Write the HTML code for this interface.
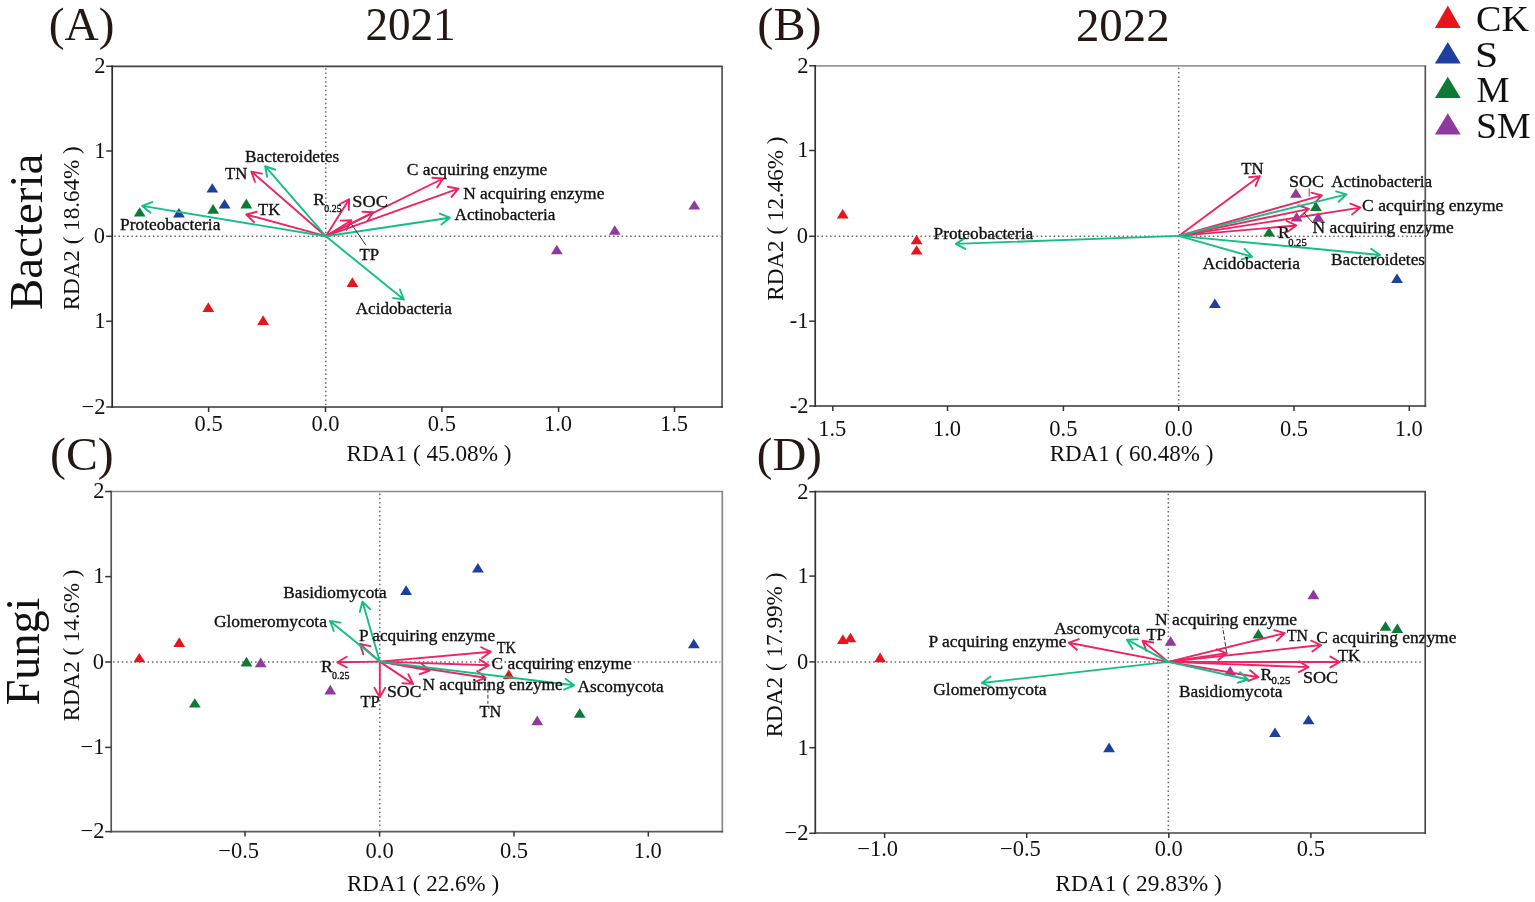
<!DOCTYPE html>
<html><head><meta charset="utf-8"><style>
html,body{margin:0;padding:0;background:#fff;}
body{width:1535px;height:902px;overflow:hidden;}
svg{display:block;font-family:'Liberation Serif', 'Times New Roman', serif;}

</style></head><body>
<svg width="1535" height="902" viewBox="0 0 1535 902">
<rect width="1535" height="902" fill="#fff"/>
<line x1="114.20" y1="236.30" x2="721.10" y2="236.30" stroke="#666" stroke-width="1.5" stroke-dasharray="1.5 2.8"/>
<line x1="325.80" y1="68.30" x2="325.80" y2="405.00" stroke="#666" stroke-width="1.5" stroke-dasharray="1.5 2.8"/>
<path d="M139.70,207.20L145.60,216.60L133.80,216.60Z" fill="#0E7A35"/>
<path d="M178.90,208.00L184.80,217.40L173.00,217.40Z" fill="#1E3FA0"/>
<path d="M212.30,183.20L218.20,192.60L206.40,192.60Z" fill="#1E3FA0"/>
<path d="M213.10,203.90L219.00,213.70L207.20,213.70Z" fill="#0E7A35"/>
<path d="M224.60,199.00L230.50,208.60L218.70,208.60Z" fill="#1E3FA0"/>
<path d="M246.30,198.60L252.20,208.60L240.40,208.60Z" fill="#0E7A35"/>
<path d="M556.80,244.80L562.70,254.20L550.90,254.20Z" fill="#8E3A9E"/>
<path d="M614.80,225.20L620.70,234.80L608.90,234.80Z" fill="#8E3A9E"/>
<path d="M694.30,200.20L700.20,209.60L688.40,209.60Z" fill="#8E3A9E"/>
<path d="M208.30,302.20L214.20,311.90L202.40,311.90Z" fill="#E8141C"/>
<path d="M263.10,315.30L269.00,325.00L257.20,325.00Z" fill="#E8141C"/>
<path d="M352.40,277.20L358.30,286.90L346.50,286.90Z" fill="#E8141C"/>
<path d="M325.80,236.20L251.40,171.60M254.92,181.81L251.40,171.60L262.00,173.65" stroke="#EE2462" stroke-width="1.9" fill="none" stroke-linecap="round" stroke-linejoin="round"/>
<path d="M325.80,236.20L246.30,214.50M253.90,222.17L246.30,214.50L256.74,211.75" stroke="#EE2462" stroke-width="1.9" fill="none" stroke-linecap="round" stroke-linejoin="round"/>
<path d="M325.80,236.20L349.20,199.20M339.64,204.22L349.20,199.20L348.76,209.99" stroke="#EE2462" stroke-width="1.9" fill="none" stroke-linecap="round" stroke-linejoin="round"/>
<path d="M325.80,236.20L373.20,212.30M362.42,211.69L373.20,212.30L367.28,221.33" stroke="#EE2462" stroke-width="1.9" fill="none" stroke-linecap="round" stroke-linejoin="round"/>
<path d="M325.80,236.20L351.50,220.30M340.71,220.63L351.50,220.30L346.39,229.81" stroke="#EE2462" stroke-width="1.9" fill="none" stroke-linecap="round" stroke-linejoin="round"/>
<path d="M325.80,236.20L443.10,178.50M432.32,177.78L443.10,178.50L437.09,187.47" stroke="#EE2462" stroke-width="1.9" fill="none" stroke-linecap="round" stroke-linejoin="round"/>
<path d="M325.80,236.20L458.50,188.70M447.87,186.77L458.50,188.70L451.51,196.94" stroke="#EE2462" stroke-width="1.9" fill="none" stroke-linecap="round" stroke-linejoin="round"/>
<path d="M325.80,236.20L142.20,205.90M150.55,212.75L142.20,205.90L152.31,202.10" stroke="#14BE87" stroke-width="1.9" fill="none" stroke-linecap="round" stroke-linejoin="round"/>
<path d="M325.80,236.20L265.10,166.20M267.15,176.80L265.10,166.20L275.31,169.73" stroke="#14BE87" stroke-width="1.9" fill="none" stroke-linecap="round" stroke-linejoin="round"/>
<path d="M325.80,236.20L449.80,217.70M439.75,213.74L449.80,217.70L441.35,224.42" stroke="#14BE87" stroke-width="1.9" fill="none" stroke-linecap="round" stroke-linejoin="round"/>
<path d="M325.80,236.20L403.80,299.60M399.95,289.51L403.80,299.60L393.14,297.89" stroke="#14BE87" stroke-width="1.9" fill="none" stroke-linecap="round" stroke-linejoin="round"/>
<line x1="351.30" y1="223.90" x2="365.90" y2="245.20" stroke="#333" stroke-width="1.0" />
<text x="120.00" y="229.90" font-size="17.5" textLength="100.34" lengthAdjust="spacingAndGlyphs" fill="#111" stroke="#111" stroke-width="0.35" >Proteobacteria</text>
<text x="258.00" y="214.90" font-size="17.5" textLength="22.17" lengthAdjust="spacingAndGlyphs" fill="#111" stroke="#111" stroke-width="0.35" >TK</text>
<text x="225.10" y="179.30" font-size="17.5" textLength="22.39" lengthAdjust="spacingAndGlyphs" fill="#111" stroke="#111" stroke-width="0.35" >TN</text>
<text x="245.00" y="162.20" font-size="17.5" textLength="94.22" lengthAdjust="spacingAndGlyphs" fill="#111" stroke="#111" stroke-width="0.35" >Bacteroidetes</text>
<text x="313.30" y="205.40" font-size="17.5" fill="#111" stroke="#111" stroke-width="0.35" >R</text>
<text x="324.32" y="212.30" font-size="10.5" textLength="17.26" lengthAdjust="spacingAndGlyphs" fill="#111" stroke="#111" stroke-width="0.35" >0.25</text>
<text x="352.38" y="206.60" font-size="17.5" textLength="35.53" lengthAdjust="spacingAndGlyphs" fill="#111" stroke="#111" stroke-width="0.35" >SOC</text>
<text x="406.78" y="174.70" font-size="17.5" textLength="140.62" lengthAdjust="spacingAndGlyphs" fill="#111" stroke="#111" stroke-width="0.35" >C acquiring enzyme</text>
<text x="463.20" y="198.70" font-size="17.5" textLength="141.21" lengthAdjust="spacingAndGlyphs" fill="#111" stroke="#111" stroke-width="0.35" >N acquiring enzyme</text>
<text x="454.53" y="220.40" font-size="17.5" textLength="100.80" lengthAdjust="spacingAndGlyphs" fill="#111" stroke="#111" stroke-width="0.35" >Actinobacteria</text>
<text x="359.50" y="259.50" font-size="17.5" textLength="19.57" lengthAdjust="spacingAndGlyphs" fill="#111" stroke="#111" stroke-width="0.35" >TP</text>
<text x="355.73" y="314.30" font-size="17.5" textLength="96.10" lengthAdjust="spacingAndGlyphs" fill="#111" stroke="#111" stroke-width="0.35" >Acidobacteria</text>
<line x1="111.35" y1="66.30" x2="722.95" y2="66.30" stroke="#444" stroke-width="1.7"/>
<line x1="722.10" y1="66.30" x2="722.10" y2="407.85" stroke="#555" stroke-width="1.7"/>
<line x1="111.35" y1="407.00" x2="722.95" y2="407.00" stroke="#333" stroke-width="1.7"/>
<line x1="112.20" y1="65.45" x2="112.20" y2="407.85" stroke="#2a2a2a" stroke-width="1.7"/>
<line x1="106.20" y1="66.30" x2="112.20" y2="66.30" stroke="#333" stroke-width="1.5" />
<text x="94.19" y="73.11" font-size="22.5" fill="#111">2</text>
<line x1="106.20" y1="151.00" x2="112.20" y2="151.00" stroke="#333" stroke-width="1.5" />
<text x="94.30" y="157.80" font-size="22.5" fill="#111">1</text>
<line x1="106.20" y1="236.30" x2="112.20" y2="236.30" stroke="#333" stroke-width="1.5" />
<text x="93.81" y="243.10" font-size="22.5" fill="#111">0</text>
<line x1="106.20" y1="321.30" x2="112.20" y2="321.30" stroke="#333" stroke-width="1.5" />
<text x="94.30" y="328.11" font-size="22.5" fill="#111">1</text>
<line x1="106.20" y1="407.00" x2="112.20" y2="407.00" stroke="#333" stroke-width="1.5" />
<text x="81.50" y="413.81" font-size="22.5" fill="#111">−2</text>
<line x1="208.60" y1="407.00" x2="208.60" y2="412.00" stroke="#333" stroke-width="1.5" />
<text x="194.55" y="430.80" font-size="22.5" fill="#111">0.5</text>
<line x1="325.50" y1="407.00" x2="325.50" y2="412.00" stroke="#333" stroke-width="1.5" />
<text x="311.44" y="430.80" font-size="22.5" fill="#111">0.0</text>
<line x1="441.90" y1="407.00" x2="441.90" y2="412.00" stroke="#333" stroke-width="1.5" />
<text x="427.85" y="430.80" font-size="22.5" fill="#111">0.5</text>
<line x1="558.60" y1="407.00" x2="558.60" y2="412.00" stroke="#333" stroke-width="1.5" />
<text x="543.98" y="430.80" font-size="22.5" fill="#111">1.0</text>
<line x1="674.50" y1="407.00" x2="674.50" y2="412.00" stroke="#333" stroke-width="1.5" />
<text x="659.89" y="430.80" font-size="22.5" fill="#111">1.5</text>
<text x="346.53" y="460.90" font-size="23" textLength="165.09" lengthAdjust="spacingAndGlyphs" fill="#111" stroke="#111" stroke-width="0" >RDA1 ( 45.08% )</text>
<text transform="translate(79.00,310.36) rotate(-90)" x="0" y="0" font-size="22.5" textLength="164.08" lengthAdjust="spacingAndGlyphs" fill="#111">RDA2 ( 18.64% )</text>
<line x1="817.20" y1="236.30" x2="1422.30" y2="236.30" stroke="#666" stroke-width="1.5" stroke-dasharray="1.5 2.8"/>
<line x1="1178.70" y1="67.80" x2="1178.70" y2="404.00" stroke="#666" stroke-width="1.5" stroke-dasharray="1.5 2.8"/>
<path d="M842.70,209.00L848.60,218.50L836.80,218.50Z" fill="#E8141C"/>
<path d="M916.60,234.80L922.50,244.20L910.70,244.20Z" fill="#E8141C"/>
<path d="M916.60,245.20L922.50,254.50L910.70,254.50Z" fill="#E8141C"/>
<path d="M1295.90,188.20L1301.80,197.70L1290.00,197.70Z" fill="#8E3A9E"/>
<path d="M1296.60,212.00L1302.50,221.40L1290.70,221.40Z" fill="#8E3A9E"/>
<path d="M1318.20,212.30L1324.10,221.70L1312.30,221.70Z" fill="#8E3A9E"/>
<path d="M1315.90,201.50L1321.80,211.00L1310.00,211.00Z" fill="#0E7A35"/>
<path d="M1269.10,227.20L1275.00,236.60L1263.20,236.60Z" fill="#0E7A35"/>
<path d="M1397.00,273.60L1402.90,283.00L1391.10,283.00Z" fill="#1E3FA0"/>
<path d="M1214.90,298.40L1220.80,308.10L1209.00,308.10Z" fill="#1E3FA0"/>
<path d="M1178.70,235.90L1259.80,176.10M1249.07,177.30L1259.80,176.10L1255.48,186.00" stroke="#EE2462" stroke-width="1.9" fill="none" stroke-linecap="round" stroke-linejoin="round"/>
<path d="M1178.70,235.90L1321.90,195.30M1311.43,192.66L1321.90,195.30L1314.37,203.05" stroke="#EE2462" stroke-width="1.9" fill="none" stroke-linecap="round" stroke-linejoin="round"/>
<path d="M1178.70,235.90L1360.50,207.60M1350.43,203.70L1360.50,207.60L1352.09,214.37" stroke="#EE2462" stroke-width="1.9" fill="none" stroke-linecap="round" stroke-linejoin="round"/>
<path d="M1178.70,235.90L1308.90,208.90M1298.65,205.51L1308.90,208.90L1300.84,216.09" stroke="#EE2462" stroke-width="1.9" fill="none" stroke-linecap="round" stroke-linejoin="round"/>
<path d="M1178.70,235.90L1296.30,225.50M1286.51,220.94L1296.30,225.50L1287.46,231.70" stroke="#EE2462" stroke-width="1.9" fill="none" stroke-linecap="round" stroke-linejoin="round"/>
<path d="M1178.70,235.90L955.80,243.90M965.34,248.96L955.80,243.90L964.95,238.17" stroke="#14BE87" stroke-width="1.9" fill="none" stroke-linecap="round" stroke-linejoin="round"/>
<path d="M1178.70,235.90L1346.50,194.30M1336.12,191.31L1346.50,194.30L1338.72,201.79" stroke="#14BE87" stroke-width="1.9" fill="none" stroke-linecap="round" stroke-linejoin="round"/>
<path d="M1178.70,235.90L1252.10,256.70M1244.57,248.95L1252.10,256.70L1241.63,259.35" stroke="#14BE87" stroke-width="1.9" fill="none" stroke-linecap="round" stroke-linejoin="round"/>
<path d="M1178.70,235.90L1380.00,255.00M1371.20,248.74L1380.00,255.00L1370.18,259.49" stroke="#14BE87" stroke-width="1.9" fill="none" stroke-linecap="round" stroke-linejoin="round"/>
<line x1="1309.20" y1="188.30" x2="1309.20" y2="196.30" stroke="#555" stroke-width="1.0" />
<line x1="1303.90" y1="212.90" x2="1313.20" y2="223.20" stroke="#333" stroke-width="1.0" />
<text x="933.60" y="239.40" font-size="17.5" textLength="99.63" lengthAdjust="spacingAndGlyphs" fill="#111" stroke="#111" stroke-width="0.35" >Proteobacteria</text>
<text x="1241.20" y="173.80" font-size="17.5" textLength="22.29" lengthAdjust="spacingAndGlyphs" fill="#111" stroke="#111" stroke-width="0.35" >TN</text>
<text x="1289.10" y="187.10" font-size="17.5" textLength="34.89" lengthAdjust="spacingAndGlyphs" fill="#111" stroke="#111" stroke-width="0.35" >SOC</text>
<text x="1331.23" y="187.30" font-size="17.5" textLength="101.00" lengthAdjust="spacingAndGlyphs" fill="#111" stroke="#111" stroke-width="0.35" >Actinobacteria</text>
<text x="1362.08" y="210.50" font-size="17.5" textLength="141.33" lengthAdjust="spacingAndGlyphs" fill="#111" stroke="#111" stroke-width="0.35" >C acquiring enzyme</text>
<text x="1312.50" y="233.30" font-size="17.5" textLength="141.21" lengthAdjust="spacingAndGlyphs" fill="#111" stroke="#111" stroke-width="0.35" >N acquiring enzyme</text>
<text x="1277.90" y="238.40" font-size="17.5" fill="#111" stroke="#111" stroke-width="0.35" >R</text>
<text x="1288.20" y="245.60" font-size="10.5" textLength="18.52" lengthAdjust="spacingAndGlyphs" fill="#111" stroke="#111" stroke-width="0.35" >0.25</text>
<text x="1202.83" y="268.60" font-size="17.5" textLength="97.01" lengthAdjust="spacingAndGlyphs" fill="#111" stroke="#111" stroke-width="0.35" >Acidobacteria</text>
<text x="1331.10" y="265.40" font-size="17.5" textLength="93.92" lengthAdjust="spacingAndGlyphs" fill="#111" stroke="#111" stroke-width="0.35" >Bacteroidetes</text>
<line x1="814.35" y1="65.80" x2="1426.15" y2="65.80" stroke="#999" stroke-width="1.7"/>
<line x1="1425.30" y1="65.80" x2="1425.30" y2="406.85" stroke="#555" stroke-width="1.7"/>
<line x1="814.35" y1="406.00" x2="1426.15" y2="406.00" stroke="#333" stroke-width="1.7"/>
<line x1="815.20" y1="64.95" x2="815.20" y2="406.85" stroke="#333" stroke-width="1.7"/>
<line x1="809.20" y1="65.80" x2="815.20" y2="65.80" stroke="#333" stroke-width="1.5" />
<text x="797.19" y="72.61" font-size="22.5" fill="#111">2</text>
<line x1="809.20" y1="150.50" x2="815.20" y2="150.50" stroke="#333" stroke-width="1.5" />
<text x="797.30" y="157.30" font-size="22.5" fill="#111">1</text>
<line x1="809.20" y1="236.30" x2="815.20" y2="236.30" stroke="#333" stroke-width="1.5" />
<text x="796.81" y="243.10" font-size="22.5" fill="#111">0</text>
<line x1="809.20" y1="321.20" x2="815.20" y2="321.20" stroke="#333" stroke-width="1.5" />
<text x="789.81" y="328.00" font-size="22.5" fill="#111">-1</text>
<line x1="809.20" y1="406.00" x2="815.20" y2="406.00" stroke="#333" stroke-width="1.5" />
<text x="789.70" y="412.81" font-size="22.5" fill="#111">-2</text>
<line x1="832.80" y1="406.00" x2="832.80" y2="411.00" stroke="#333" stroke-width="1.5" />
<text x="818.19" y="436.20" font-size="22.5" fill="#111">1.5</text>
<line x1="947.50" y1="406.00" x2="947.50" y2="411.00" stroke="#333" stroke-width="1.5" />
<text x="932.88" y="436.20" font-size="22.5" fill="#111">1.0</text>
<line x1="1063.40" y1="406.00" x2="1063.40" y2="411.00" stroke="#333" stroke-width="1.5" />
<text x="1049.35" y="436.20" font-size="22.5" fill="#111">0.5</text>
<line x1="1178.70" y1="406.00" x2="1178.70" y2="411.00" stroke="#333" stroke-width="1.5" />
<text x="1164.64" y="436.20" font-size="22.5" fill="#111">0.0</text>
<line x1="1294.00" y1="406.00" x2="1294.00" y2="411.00" stroke="#333" stroke-width="1.5" />
<text x="1279.95" y="436.20" font-size="22.5" fill="#111">0.5</text>
<line x1="1409.30" y1="406.00" x2="1409.30" y2="411.00" stroke="#333" stroke-width="1.5" />
<text x="1394.68" y="436.20" font-size="22.5" fill="#111">1.0</text>
<text x="1049.64" y="460.80" font-size="23" textLength="163.78" lengthAdjust="spacingAndGlyphs" fill="#111" stroke="#111" stroke-width="0" >RDA1 ( 60.48% )</text>
<text transform="translate(783.30,300.67) rotate(-90)" x="0" y="0" font-size="22.5" textLength="164.18" lengthAdjust="spacingAndGlyphs" fill="#111">RDA2 ( 12.46% )</text>
<line x1="113.20" y1="662.00" x2="720.30" y2="662.00" stroke="#666" stroke-width="1.5" stroke-dasharray="1.5 2.8"/>
<line x1="379.80" y1="493.50" x2="379.80" y2="829.60" stroke="#666" stroke-width="1.5" stroke-dasharray="1.5 2.8"/>
<path d="M139.30,652.90L145.20,662.20L133.40,662.20Z" fill="#E8141C"/>
<path d="M179.20,637.20L185.10,646.90L173.30,646.90Z" fill="#E8141C"/>
<path d="M508.80,669.50L514.70,678.90L502.90,678.90Z" fill="#E8141C"/>
<path d="M246.50,656.80L252.40,666.40L240.60,666.40Z" fill="#0E7A35"/>
<path d="M194.80,698.20L200.70,707.60L188.90,707.60Z" fill="#0E7A35"/>
<path d="M579.70,708.30L585.60,717.70L573.80,717.70Z" fill="#0E7A35"/>
<path d="M260.70,657.60L266.60,667.30L254.80,667.30Z" fill="#8E3A9E"/>
<path d="M330.30,684.80L336.20,694.40L324.40,694.40Z" fill="#8E3A9E"/>
<path d="M537.20,715.40L543.10,725.20L531.30,725.20Z" fill="#8E3A9E"/>
<path d="M406.10,585.20L412.00,594.90L400.20,594.90Z" fill="#1E3FA0"/>
<path d="M477.90,563.00L483.80,572.40L472.00,572.40Z" fill="#1E3FA0"/>
<path d="M693.80,638.80L699.70,648.20L687.90,648.20Z" fill="#1E3FA0"/>
<path d="M379.80,661.60L359.90,644.00M363.33,654.24L359.90,644.00L370.48,646.15" stroke="#EE2462" stroke-width="1.9" fill="none" stroke-linecap="round" stroke-linejoin="round"/>
<path d="M379.80,661.60L337.40,662.30M346.84,667.54L337.40,662.30L346.66,656.75" stroke="#EE2462" stroke-width="1.9" fill="none" stroke-linecap="round" stroke-linejoin="round"/>
<path d="M379.80,661.60L379.80,697.20M385.20,687.85L379.80,697.20L374.40,687.85" stroke="#EE2462" stroke-width="1.9" fill="none" stroke-linecap="round" stroke-linejoin="round"/>
<path d="M379.80,661.60L413.10,683.90M408.33,674.21L413.10,683.90L402.32,683.18" stroke="#EE2462" stroke-width="1.9" fill="none" stroke-linecap="round" stroke-linejoin="round"/>
<path d="M379.80,661.60L429.70,670.60M421.45,663.63L429.70,670.60L419.54,674.25" stroke="#EE2462" stroke-width="1.9" fill="none" stroke-linecap="round" stroke-linejoin="round"/>
<path d="M379.80,661.60L490.90,651.80M481.11,647.24L490.90,651.80L482.06,658.00" stroke="#EE2462" stroke-width="1.9" fill="none" stroke-linecap="round" stroke-linejoin="round"/>
<path d="M379.80,661.60L488.90,665.30M479.74,659.59L488.90,665.30L479.37,670.38" stroke="#EE2462" stroke-width="1.9" fill="none" stroke-linecap="round" stroke-linejoin="round"/>
<path d="M379.80,661.60L485.50,677.80M477.07,671.05L485.50,677.80L475.44,681.72" stroke="#EE2462" stroke-width="1.9" fill="none" stroke-linecap="round" stroke-linejoin="round"/>
<path d="M379.80,661.60L362.40,601.60M359.82,612.09L362.40,601.60L370.19,609.08" stroke="#14BE87" stroke-width="1.9" fill="none" stroke-linecap="round" stroke-linejoin="round"/>
<path d="M379.80,661.60L330.00,620.90M333.82,631.00L330.00,620.90L340.66,622.64" stroke="#14BE87" stroke-width="1.9" fill="none" stroke-linecap="round" stroke-linejoin="round"/>
<path d="M379.80,661.60L574.10,685.30M565.47,678.81L574.10,685.30L564.16,689.53" stroke="#14BE87" stroke-width="1.9" fill="none" stroke-linecap="round" stroke-linejoin="round"/>
<line x1="487.90" y1="682.70" x2="487.90" y2="703.70" stroke="#333" stroke-width="1.0" stroke-dasharray="4 2"/>
<text x="283.30" y="598.20" font-size="17.5" textLength="103.43" lengthAdjust="spacingAndGlyphs" fill="#111" stroke="#111" stroke-width="0.35" >Basidiomycota</text>
<text x="213.89" y="626.50" font-size="17.5" textLength="113.05" lengthAdjust="spacingAndGlyphs" fill="#111" stroke="#111" stroke-width="0.35" >Glomeromycota</text>
<text x="359.01" y="640.60" font-size="17.5" textLength="136.09" lengthAdjust="spacingAndGlyphs" fill="#111" stroke="#111" stroke-width="0.35" >P acquiring enzyme</text>
<text x="496.64" y="653.40" font-size="17.5" textLength="19.31" lengthAdjust="spacingAndGlyphs" fill="#111" stroke="#111" stroke-width="0.35" >TK</text>
<text x="491.59" y="669.30" font-size="17.5" textLength="140.22" lengthAdjust="spacingAndGlyphs" fill="#111" stroke="#111" stroke-width="0.35" >C acquiring enzyme</text>
<text x="321.10" y="672.40" font-size="17.5" fill="#111" stroke="#111" stroke-width="0.35" >R</text>
<text x="332.02" y="678.90" font-size="10.5" textLength="17.37" lengthAdjust="spacingAndGlyphs" fill="#111" stroke="#111" stroke-width="0.35" >0.25</text>
<text x="386.91" y="697.20" font-size="17.5" textLength="34.57" lengthAdjust="spacingAndGlyphs" fill="#111" stroke="#111" stroke-width="0.35" >SOC</text>
<text x="422.50" y="689.70" font-size="17.5" textLength="140.20" lengthAdjust="spacingAndGlyphs" fill="#111" stroke="#111" stroke-width="0.35" >N acquiring enzyme</text>
<text x="577.53" y="692.10" font-size="17.5" textLength="86.20" lengthAdjust="spacingAndGlyphs" fill="#111" stroke="#111" stroke-width="0.35" >Ascomycota</text>
<text x="360.40" y="707.10" font-size="17.5" textLength="19.26" lengthAdjust="spacingAndGlyphs" fill="#111" stroke="#111" stroke-width="0.35" >TP</text>
<text x="479.61" y="716.50" font-size="17.5" textLength="21.67" lengthAdjust="spacingAndGlyphs" fill="#111" stroke="#111" stroke-width="0.35" >TN</text>
<line x1="110.35" y1="491.50" x2="723.15" y2="491.50" stroke="#8a8a8a" stroke-width="1.7"/>
<line x1="722.30" y1="491.50" x2="722.30" y2="832.45" stroke="#888" stroke-width="1.7"/>
<line x1="110.35" y1="831.60" x2="723.15" y2="831.60" stroke="#5a5a5a" stroke-width="1.7"/>
<line x1="111.20" y1="490.65" x2="111.20" y2="832.45" stroke="#555" stroke-width="1.7"/>
<line x1="105.20" y1="491.50" x2="111.20" y2="491.50" stroke="#333" stroke-width="1.5" />
<text x="93.19" y="498.31" font-size="22.5" fill="#111">2</text>
<line x1="105.20" y1="576.60" x2="111.20" y2="576.60" stroke="#333" stroke-width="1.5" />
<text x="93.30" y="583.41" font-size="22.5" fill="#111">1</text>
<line x1="105.20" y1="662.00" x2="111.20" y2="662.00" stroke="#333" stroke-width="1.5" />
<text x="92.81" y="668.81" font-size="22.5" fill="#111">0</text>
<line x1="105.20" y1="747.40" x2="111.20" y2="747.40" stroke="#333" stroke-width="1.5" />
<text x="80.61" y="754.21" font-size="22.5" fill="#111">−1</text>
<line x1="105.20" y1="831.60" x2="111.20" y2="831.60" stroke="#333" stroke-width="1.5" />
<text x="80.50" y="838.41" font-size="22.5" fill="#111">−2</text>
<line x1="245.00" y1="831.60" x2="245.00" y2="836.60" stroke="#333" stroke-width="1.5" />
<text x="218.26" y="857.80" font-size="22.5" fill="#111">−0.5</text>
<line x1="379.60" y1="831.60" x2="379.60" y2="836.60" stroke="#333" stroke-width="1.5" />
<text x="365.54" y="857.80" font-size="22.5" fill="#111">0.0</text>
<line x1="514.00" y1="831.60" x2="514.00" y2="836.60" stroke="#333" stroke-width="1.5" />
<text x="499.95" y="857.80" font-size="22.5" fill="#111">0.5</text>
<line x1="648.30" y1="831.60" x2="648.30" y2="836.60" stroke="#333" stroke-width="1.5" />
<text x="633.68" y="857.80" font-size="22.5" fill="#111">1.0</text>
<text x="346.94" y="890.60" font-size="23" textLength="152.17" lengthAdjust="spacingAndGlyphs" fill="#111" stroke="#111" stroke-width="0" >RDA1 ( 22.6% )</text>
<text transform="translate(79.00,721.36) rotate(-90)" x="0" y="0" font-size="22.5" textLength="151.87" lengthAdjust="spacingAndGlyphs" fill="#111">RDA2 ( 14.6% )</text>
<line x1="817.30" y1="662.00" x2="1421.20" y2="662.00" stroke="#666" stroke-width="1.5" stroke-dasharray="1.5 2.8"/>
<line x1="1168.30" y1="493.70" x2="1168.30" y2="831.00" stroke="#666" stroke-width="1.5" stroke-dasharray="1.5 2.8"/>
<path d="M842.90,634.30L848.80,643.90L837.00,643.90Z" fill="#E8141C"/>
<path d="M850.40,632.70L856.30,642.30L844.50,642.30Z" fill="#E8141C"/>
<path d="M880.10,652.60L886.00,662.20L874.20,662.20Z" fill="#E8141C"/>
<path d="M1170.60,636.30L1176.50,645.80L1164.70,645.80Z" fill="#8E3A9E"/>
<path d="M1313.40,589.60L1319.30,599.30L1307.50,599.30Z" fill="#8E3A9E"/>
<path d="M1230.10,666.00L1236.00,675.50L1224.20,675.50Z" fill="#8E3A9E"/>
<path d="M1258.40,629.00L1264.30,638.40L1252.50,638.40Z" fill="#0E7A35"/>
<path d="M1385.50,621.20L1391.40,630.70L1379.60,630.70Z" fill="#0E7A35"/>
<path d="M1397.30,623.60L1403.20,632.90L1391.40,632.90Z" fill="#0E7A35"/>
<path d="M1109.10,742.60L1115.00,752.20L1103.20,752.20Z" fill="#1E3FA0"/>
<path d="M1275.00,727.40L1280.90,737.00L1269.10,737.00Z" fill="#1E3FA0"/>
<path d="M1308.50,714.80L1314.40,724.30L1302.60,724.30Z" fill="#1E3FA0"/>
<path d="M1168.30,661.90L1068.70,642.70M1076.86,649.77L1068.70,642.70L1078.91,639.17" stroke="#EE2462" stroke-width="1.9" fill="none" stroke-linecap="round" stroke-linejoin="round"/>
<path d="M1168.30,661.90L1142.60,640.80M1146.40,650.91L1142.60,640.80L1153.26,642.56" stroke="#EE2462" stroke-width="1.9" fill="none" stroke-linecap="round" stroke-linejoin="round"/>
<path d="M1168.30,661.90L1226.80,653.30M1216.76,649.32L1226.80,653.30L1218.33,660.00" stroke="#EE2462" stroke-width="1.9" fill="none" stroke-linecap="round" stroke-linejoin="round"/>
<path d="M1168.30,661.90L1284.70,633.20M1274.33,630.20L1284.70,633.20L1276.91,640.68" stroke="#EE2462" stroke-width="1.9" fill="none" stroke-linecap="round" stroke-linejoin="round"/>
<path d="M1168.30,661.90L1321.10,645.00M1311.21,640.66L1321.10,645.00L1312.40,651.40" stroke="#EE2462" stroke-width="1.9" fill="none" stroke-linecap="round" stroke-linejoin="round"/>
<path d="M1168.30,661.90L1339.70,662.00M1330.35,656.59L1339.70,662.00L1330.34,667.39" stroke="#EE2462" stroke-width="1.9" fill="none" stroke-linecap="round" stroke-linejoin="round"/>
<path d="M1168.30,661.90L1308.40,667.10M1299.25,661.36L1308.40,667.10L1298.85,672.15" stroke="#EE2462" stroke-width="1.9" fill="none" stroke-linecap="round" stroke-linejoin="round"/>
<path d="M1168.30,661.90L1258.40,677.20M1250.08,670.31L1258.40,677.20L1248.27,680.96" stroke="#EE2462" stroke-width="1.9" fill="none" stroke-linecap="round" stroke-linejoin="round"/>
<path d="M1168.30,661.90L981.80,683.00M991.70,687.31L981.80,683.00L990.49,676.58" stroke="#14BE87" stroke-width="1.9" fill="none" stroke-linecap="round" stroke-linejoin="round"/>
<path d="M1168.30,661.90L1126.90,639.70M1132.59,648.88L1126.90,639.70L1137.69,639.36" stroke="#14BE87" stroke-width="1.9" fill="none" stroke-linecap="round" stroke-linejoin="round"/>
<path d="M1168.30,661.90L1248.00,679.50M1240.03,672.21L1248.00,679.50L1237.70,682.76" stroke="#14BE87" stroke-width="1.9" fill="none" stroke-linecap="round" stroke-linejoin="round"/>
<line x1="1226.50" y1="652.00" x2="1222.70" y2="627.00" stroke="#333" stroke-width="1.0" stroke-dasharray="4 2"/>
<text x="1155.10" y="625.00" font-size="17.5" textLength="142.01" lengthAdjust="spacingAndGlyphs" fill="#111" stroke="#111" stroke-width="0.35" >N acquiring enzyme</text>
<text x="1054.23" y="633.50" font-size="17.5" textLength="85.90" lengthAdjust="spacingAndGlyphs" fill="#111" stroke="#111" stroke-width="0.35" >Ascomycota</text>
<text x="1146.40" y="639.70" font-size="17.5" textLength="19.47" lengthAdjust="spacingAndGlyphs" fill="#111" stroke="#111" stroke-width="0.35" >TP</text>
<text x="928.60" y="647.00" font-size="17.5" textLength="138.00" lengthAdjust="spacingAndGlyphs" fill="#111" stroke="#111" stroke-width="0.35" >P acquiring enzyme</text>
<text x="933.18" y="695.00" font-size="17.5" textLength="113.45" lengthAdjust="spacingAndGlyphs" fill="#111" stroke="#111" stroke-width="0.35" >Glomeromycota</text>
<text x="1179.00" y="696.50" font-size="17.5" textLength="103.33" lengthAdjust="spacingAndGlyphs" fill="#111" stroke="#111" stroke-width="0.35" >Basidiomycota</text>
<text x="1286.91" y="640.50" font-size="17.5" textLength="21.05" lengthAdjust="spacingAndGlyphs" fill="#111" stroke="#111" stroke-width="0.35" >TN</text>
<text x="1316.19" y="643.40" font-size="17.5" textLength="140.22" lengthAdjust="spacingAndGlyphs" fill="#111" stroke="#111" stroke-width="0.35" >C acquiring enzyme</text>
<text x="1337.70" y="661.10" font-size="17.5" textLength="22.48" lengthAdjust="spacingAndGlyphs" fill="#111" stroke="#111" stroke-width="0.35" >TK</text>
<text x="1302.99" y="683.20" font-size="17.5" textLength="35.21" lengthAdjust="spacingAndGlyphs" fill="#111" stroke="#111" stroke-width="0.35" >SOC</text>
<text x="1260.50" y="679.80" font-size="17.5" fill="#111" stroke="#111" stroke-width="0.35" >R</text>
<text x="1271.59" y="684.00" font-size="10.5" textLength="18.62" lengthAdjust="spacingAndGlyphs" fill="#111" stroke="#111" stroke-width="0.35" >0.25</text>
<line x1="814.45" y1="491.70" x2="1426.05" y2="491.70" stroke="#555" stroke-width="1.7"/>
<line x1="1425.20" y1="491.70" x2="1425.20" y2="833.85" stroke="#4a4a4a" stroke-width="1.7"/>
<line x1="814.45" y1="833.00" x2="1426.05" y2="833.00" stroke="#444" stroke-width="1.7"/>
<line x1="815.30" y1="490.85" x2="815.30" y2="833.85" stroke="#333" stroke-width="1.7"/>
<line x1="809.30" y1="491.70" x2="815.30" y2="491.70" stroke="#333" stroke-width="1.5" />
<text x="797.29" y="498.50" font-size="22.5" fill="#111">2</text>
<line x1="809.30" y1="576.10" x2="815.30" y2="576.10" stroke="#333" stroke-width="1.5" />
<text x="797.40" y="582.91" font-size="22.5" fill="#111">1</text>
<line x1="809.30" y1="661.90" x2="815.30" y2="661.90" stroke="#333" stroke-width="1.5" />
<text x="796.91" y="668.71" font-size="22.5" fill="#111">0</text>
<line x1="809.30" y1="747.70" x2="815.30" y2="747.70" stroke="#333" stroke-width="1.5" />
<text x="797.40" y="754.51" font-size="22.5" fill="#111">1</text>
<line x1="809.30" y1="833.30" x2="815.30" y2="833.30" stroke="#333" stroke-width="1.5" />
<text x="784.60" y="840.11" font-size="22.5" fill="#111">−2</text>
<line x1="884.60" y1="833.00" x2="884.60" y2="838.00" stroke="#333" stroke-width="1.5" />
<text x="857.29" y="856.20" font-size="22.5" fill="#111">−1.0</text>
<line x1="1026.70" y1="833.00" x2="1026.70" y2="838.00" stroke="#333" stroke-width="1.5" />
<text x="999.96" y="856.20" font-size="22.5" fill="#111">−0.5</text>
<line x1="1168.80" y1="833.00" x2="1168.80" y2="838.00" stroke="#333" stroke-width="1.5" />
<text x="1154.74" y="856.20" font-size="22.5" fill="#111">0.0</text>
<line x1="1310.90" y1="833.00" x2="1310.90" y2="838.00" stroke="#333" stroke-width="1.5" />
<text x="1296.85" y="856.20" font-size="22.5" fill="#111">0.5</text>
<text x="1055.33" y="891.30" font-size="23" textLength="166.50" lengthAdjust="spacingAndGlyphs" fill="#111" stroke="#111" stroke-width="0" >RDA1 ( 29.83% )</text>
<text transform="translate(782.00,737.37) rotate(-90)" x="0" y="0" font-size="22.5" textLength="164.79" lengthAdjust="spacingAndGlyphs" fill="#111">RDA2 ( 17.99% )</text>
<text x="48.72" y="39.70" font-size="46" textLength="65.66" lengthAdjust="spacingAndGlyphs" fill="#231815" stroke="#231815" stroke-width="0.0" >(A)</text>
<text x="365.42" y="40.20" font-size="46" textLength="90.19" lengthAdjust="spacingAndGlyphs" fill="#231815" stroke="#231815" stroke-width="0.0" >2021</text>
<text x="757.39" y="40.00" font-size="46" textLength="64.13" lengthAdjust="spacingAndGlyphs" fill="#231815" stroke="#231815" stroke-width="0.0" >(B)</text>
<text x="1075.94" y="40.50" font-size="46" textLength="93.64" lengthAdjust="spacingAndGlyphs" fill="#231815" stroke="#231815" stroke-width="0.0" >2022</text>
<text x="50.00" y="469.50" font-size="46" textLength="63.59" lengthAdjust="spacingAndGlyphs" fill="#231815" stroke="#231815" stroke-width="0.0" >(C)</text>
<text x="756.85" y="469.50" font-size="46" textLength="64.91" lengthAdjust="spacingAndGlyphs" fill="#231815" stroke="#231815" stroke-width="0.0" >(D)</text>
<text transform="translate(41.60,309.95) rotate(-90)" x="0" y="0" font-size="46" textLength="156.29" lengthAdjust="spacingAndGlyphs" fill="#111">Bacteria</text>
<text transform="translate(38.60,705.33) rotate(-90)" x="0" y="0" font-size="48" textLength="107.71" lengthAdjust="spacingAndGlyphs" fill="#111">Fungi</text>
<path d="M1447.80,5.40L1460.70,27.90L1434.90,27.90Z" fill="#E8141C"/>
<text x="1476.14" y="30.90" font-size="36.5" textLength="52.85" lengthAdjust="spacingAndGlyphs" fill="#111" stroke="#111" stroke-width="0.0" >CK</text>
<path d="M1447.80,41.90L1460.70,63.60L1434.90,63.60Z" fill="#1E3FA0"/>
<text x="1475.11" y="66.50" font-size="36.5" textLength="23.17" lengthAdjust="spacingAndGlyphs" fill="#111" stroke="#111" stroke-width="0.0" >S</text>
<path d="M1447.80,76.70L1460.70,98.00L1434.90,98.00Z" fill="#0E7A35"/>
<text x="1476.63" y="102.20" font-size="36.5" textLength="33.06" lengthAdjust="spacingAndGlyphs" fill="#111" stroke="#111" stroke-width="0.0" >M</text>
<path d="M1447.80,113.20L1460.70,134.60L1434.90,134.60Z" fill="#8E3A9E"/>
<text x="1475.97" y="137.70" font-size="36.5" textLength="54.74" lengthAdjust="spacingAndGlyphs" fill="#111" stroke="#111" stroke-width="0.0" >SM</text>
</svg>
</body></html>
